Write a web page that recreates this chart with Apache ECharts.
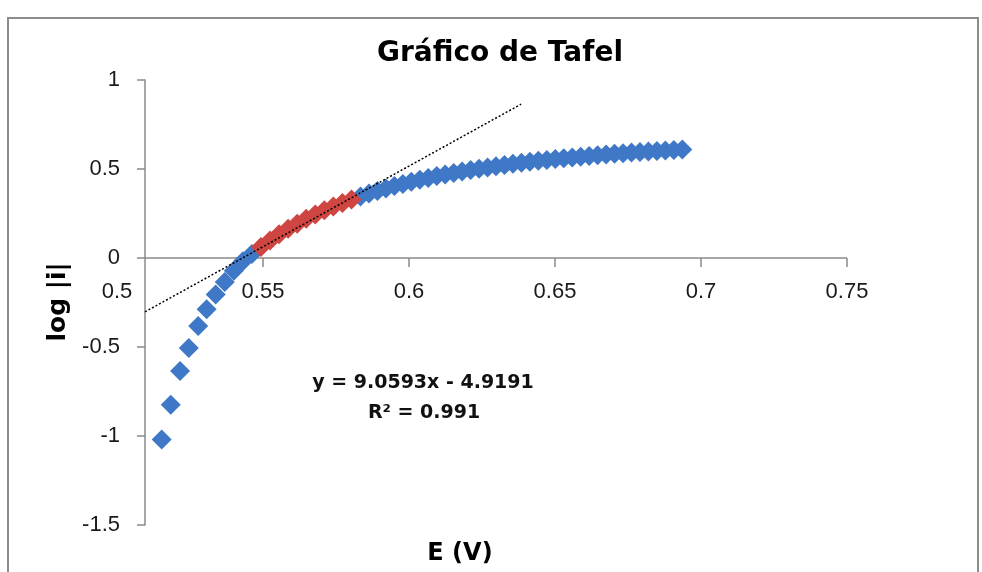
<!DOCTYPE html>
<html><head><meta charset="utf-8">
<script src="https://cdn.jsdelivr.net/npm/echarts@6/dist/echarts.min.js"></script>
<style>html,body{margin:0;padding:0;background:#fff}#c{width:982px;height:572px}</style>
</head><body><div id="c"></div>
<script>
// ---- texts ----
const titleText = 'Gráfico de Tafel';
const xAxisTitle = 'E (V)';
const yAxisTitle = 'log |i|';
const equationText = 'y = 9.0593x - 4.9191';
const r2Text = 'R² = 0.991';

// ---- axes ----
const xMin = 0.5, xMax = 0.75, xStep = 0.05;
const yMin = -1.5, yMax = 1, yStep = 0.5;
const xTickMarks = [0.55, 0.6, 0.65, 0.7, 0.75];   // tick marks drawn on the visible axis line
const yAxisCrossE = 0.5096;   // E value where the vertical axis crosses
const xAxisCrossLogI = 0;     // log|i| value where the horizontal axis crosses

// ---- data: all measured points (blue) ----
const blueE = [0.5153,0.5184,0.5216,0.5246,0.5278,0.5307,0.5338,0.5369,0.5400,0.5431,0.5462,
  0.5834,0.5863,0.5892,0.5921,0.5950,0.5979,0.6008,0.6037,0.6066,0.6095,0.6124,0.6153,0.6182,
  0.6211,0.6240,0.6269,0.6298,0.6327,0.6356,0.6385,0.6414,0.6443,0.6472,0.6501,0.6530,0.6559,
  0.6588,0.6617,0.6646,0.6675,0.6704,0.6733,0.6762,0.6791,0.6820,0.6849,0.6878,0.6907,0.6936];
const blueLogI = [-1.020,-0.825,-0.635,-0.505,-0.382,-0.288,-0.205,-0.135,-0.072,-0.018,0.022,
  0.346,0.362,0.377,0.391,0.404,0.416,0.428,0.439,0.450,0.460,0.469,0.478,0.486,
  0.494,0.502,0.509,0.516,0.523,0.529,0.535,0.541,0.546,0.551,0.556,0.561,0.565,
  0.569,0.573,0.577,0.581,0.585,0.588,0.592,0.595,0.598,0.601,0.604,0.607,0.610];

// ---- data: Tafel region used for the fit (red) ----
const redE = [0.5493,0.5524,0.5555,0.5586,0.5617,0.5648,0.5679,0.5710,0.5741,0.5772,0.5803];
const redLogI = [0.062,0.099,0.133,0.164,0.193,0.220,0.245,0.268,0.289,0.309,0.328];

// ---- linear trendline ----
const trendSlope = 9.0593, trendIntercept = -4.9191;
const trendFrom = 0.5096, trendTo = 0.6384;

const blueColor = '#3f78c6', redColor = '#cf4541', axisColor = '#8a8a8a';
const tickFont = '"Liberation Sans", Arial, sans-serif';
const boldFont = '"DejaVu Sans", sans-serif';

const GRID = {left:117, right:135, top:80, bottom:47};
const pairs = (xs, ys) => xs.map((x, i) => [x, ys[i]]);
const trendData = [trendFrom, trendTo].map(x => [x, trendSlope * x + trendIntercept]);

const chart = echarts.init(document.getElementById('c'), null, {renderer:'canvas'});
chart.setOption({
  animation:false,
  backgroundColor:'#ffffff',
  grid:{left:GRID.left, right:GRID.right, top:GRID.top, bottom:GRID.bottom, containLabel:false},
  xAxis:{type:'value', position:'bottom', min:xMin, max:xMax, interval:xStep,
    axisLine:{show:true, onZero:false, lineStyle:{color:'rgba(0,0,0,0)', width:0}},
    axisTick:{show:true, length:9, customValues:xTickMarks, lineStyle:{color:axisColor, width:1.5}},
    axisLabel:{margin:23, fontSize:22, fontFamily:tickFont, color:'#1a1a1a', showMinLabel:true, showMaxLabel:true, hideOverlap:false},
    splitLine:{show:false}},
  yAxis:{type:'value', position:'left', min:yMin, max:yMax, interval:yStep,
    axisLine:{show:true, onZero:false, lineStyle:{color:axisColor, width:1.5}},
    axisTick:{show:true, length:8, lineStyle:{color:axisColor, width:1.5}},
    axisLabel:{margin:25, fontSize:22, fontFamily:tickFont, color:'#1a1a1a'},
    splitLine:{show:false}},
  series:[
    {type:'scatter', name:'blue', data:pairs(blueE, blueLogI), symbol:'diamond', symbolSize:20,
      itemStyle:{color:blueColor, opacity:1}, z:2},
    {type:'scatter', name:'red', data:pairs(redE, redLogI), symbol:'diamond', symbolSize:20,
      itemStyle:{color:redColor, opacity:1}, z:3},
    {type:'line', name:'trend', data:trendData, showSymbol:false, symbol:'none',
      lineStyle:{color:'#000', width:1.5, type:[2,2]}, z:4}
  ]
});

const pCross = chart.convertToPixel({gridIndex:0}, [yAxisCrossE, xAxisCrossLogI]);
const pEnd = chart.convertToPixel({gridIndex:0}, [xMax, xAxisCrossLogI]);
const pBottom = chart.convertToPixel({gridIndex:0}, [xMin, yMin]);
chart.setOption({
  xAxis:{offset: -(pBottom[1] - pCross[1])},
  yAxis:{offset: -(pCross[0] - pBottom[0])},
  graphic:[
    {type:'rect', shape:{x:8, y:18, width:970, height:620}, style:{fill:null, stroke:'#8c8c8c', lineWidth:2}, z:-1, silent:true},
    {type:'line', shape:{x1:pCross[0], y1:pCross[1], x2:pEnd[0], y2:pEnd[1]}, style:{stroke:axisColor, lineWidth:1.5}, z:1, silent:true},
    {type:'text', x:500, y:54, style:{text:titleText, fontFamily:boldFont, fontWeight:'bold', fontSize:28, fill:'#000', align:'center', verticalAlign:'middle'}},
    {type:'text', x:423, y:383, style:{text:equationText, fontFamily:boldFont, fontWeight:'bold', fontSize:19, fill:'#111', align:'center', verticalAlign:'middle'}},
    {type:'text', x:424, y:413, style:{text:r2Text, fontFamily:boldFont, fontWeight:'bold', fontSize:19, fill:'#111', align:'center', verticalAlign:'middle'}},
    {type:'text', x:58, y:302, rotation:Math.PI/2, style:{text:yAxisTitle, fontFamily:boldFont, fontWeight:'bold', fontSize:25, fill:'#000', align:'center', verticalAlign:'middle'}},
    {type:'text', x:460, y:554, style:{text:xAxisTitle, fontFamily:boldFont, fontWeight:'bold', fontSize:24, fill:'#000', align:'center', verticalAlign:'middle'}}
  ]
});
</script>
</body></html>
